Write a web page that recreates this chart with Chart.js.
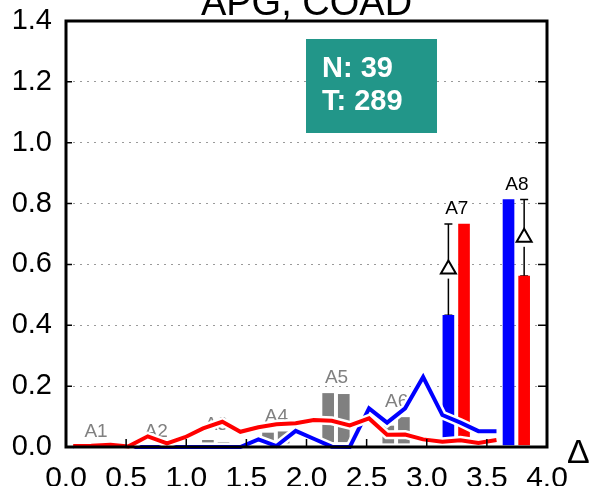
<!DOCTYPE html>
<html>
<head>
<meta charset="utf-8">
<script src="https://cdn.jsdelivr.net/npm/chart.js@4.4.1/dist/chart.umd.min.js"></script>
<style>
  html, body { margin: 0; padding: 0; background: #fff; }
</style>
</head>
<body>
<canvas id="chart" width="593" height="486"></canvas>
<script>
// ----- Data -----
// line curves (x position, blue / red value)
const xPos = [0.06, 0.21, 0.37, 0.52, 0.68, 0.84, 0.99, 1.14, 1.30, 1.45, 1.60, 1.75,
              1.91, 2.06, 2.21, 2.36, 2.52, 2.67, 2.82, 2.97, 3.13, 3.28, 3.43, 3.58];
const redVals = [0.003, 0.004, 0.007, 0.002, 0.035, 0.012, 0.032, 0.061, 0.083, 0.050, 0.065, 0.075,
                 0.078, 0.089, 0.086, 0.071, 0.094, 0.040, 0.041, 0.025, 0.017, 0.022, 0.013, 0.023];
const blueVals = [0, 0, 0, 0, 0, 0, 0, 0, 0, 0, 0.025, 0.003,
                  0.053, 0.027, 0.001, 0, 0.127, 0.080, 0.127, 0.230, 0.105, 0.080, 0.052, 0.052];

// bar groups
const groupLabels = ["A1", "A2", "A3", "A4", "A5", "A6", "A7", "A8"];
const groupCenters = [0.25, 0.75, 1.25, 1.75, 2.25, 2.75, 3.25, 3.75];
const significant = [false, false, false, false, false, false, true, true];
const barBase = [0, 0, 0.015, 0.013, 0.017, 0.013, 0.03, 0.007];
const leftTop = [0, 0, 0.022, 0.046, 0.176, 0.069, 0.433, 0.813];
const rightTop = [0, 0, 0, 0.05, 0.173, 0.097, 0.733, 0.562];

// delta markers (x position, low / high)
const errX = [3.18, 3.81];
const errLow = [0.433, 0.562];
const errHigh = [0.733, 0.813];

const xTicks = [0, 0.5, 1, 1.5, 2, 2.5, 3, 3.5, 4];
const yTicks = [0, 0.2, 0.4, 0.6, 0.8, 1.0, 1.2, 1.4];

const titleText = "APG, COAD";
const boxLines = ["N: 39", "T: 289"];

// ----- Style -----
const FONT = "'Liberation Sans', Arial, Helvetica, sans-serif";
const BLUE = "#0000ff", RED = "#ff0000", GRAY = "#808080";
const OFF_L = -0.07, OFF_R = 0.06;

const barSet = (tops, offset, sigColor, order) => ({
  type: "bar",
  data: groupCenters.map((c, i) => ({ x: c + offset, y: [barBase[i], tops[i]] })),
  backgroundColor: significant.map((s) => (s ? sigColor : GRAY)),
  barThickness: 11,
  grouped: false,
  order
});

const lineSet = (vals, color, width, order) => ({
  type: "line",
  data: xPos.map((x, i) => ({ x, y: vals[i] })),
  borderColor: color,
  borderWidth: width,
  pointRadius: 0,
  tension: 0,
  fill: false,
  clip: false,
  order
});

// ----- Decorations plugin -----
const decor = {
  id: "decor",
  beforeDatasetsDraw(chart) {
    const { ctx, scales: { x, y } } = chart;
    ctx.save();
    // group labels
    ctx.font = "19px " + FONT;
    ctx.textAlign = "center";
    ctx.textBaseline = "alphabetic";
    groupLabels.forEach((lab, i) => {
      let top = Math.max(leftTop[i], rightTop[i]);
      errX.forEach((ex, j) => {
        if (Math.abs(ex - groupCenters[i]) < 0.25) top = Math.max(top, errHigh[j]);
      });
      ctx.fillStyle = significant[i] ? "#000" : GRAY;
      ctx.fillText(lab, x.getPixelForValue(groupCenters[i]), y.getPixelForValue(top) - 10);
    });
    // delta markers
    errX.forEach((ex, j) => {
      const px = x.getPixelForValue(ex);
      const yLo = y.getPixelForValue(errLow[j]);
      const yHi = y.getPixelForValue(errHigh[j]);
      const yMid = (yLo + yHi) / 2;
      ctx.strokeStyle = "#000";
      ctx.lineWidth = 1.5;
      ctx.beginPath();
      ctx.moveTo(px, yHi); ctx.lineTo(px, yLo);
      ctx.moveTo(px - 4, yHi); ctx.lineTo(px + 4, yHi);
      ctx.moveTo(px - 4, yLo); ctx.lineTo(px + 4, yLo);
      ctx.stroke();
      ctx.fillStyle = "#fff";
      ctx.fillRect(px - 9, yMid - 9, 18, 18);
      ctx.lineWidth = 2;
      ctx.beginPath();
      ctx.moveTo(px, yMid - 9);
      ctx.lineTo(px + 7.5, yMid + 4);
      ctx.lineTo(px - 7.5, yMid + 4);
      ctx.closePath();
      ctx.stroke();
    });
    ctx.restore();
  },
  afterDatasetsDraw(chart) {
    const { ctx, chartArea: { left, right, top, bottom }, scales: { x, y } } = chart;
    ctx.save();
    // inward ticks
    ctx.strokeStyle = "#000";
    ctx.lineWidth = 1.5;
    ctx.beginPath();
    xTicks.forEach((v) => {
      const px = x.getPixelForValue(v);
      ctx.moveTo(px, bottom); ctx.lineTo(px, bottom - 8);
    });
    yTicks.forEach((v) => {
      const py = y.getPixelForValue(v);
      ctx.moveTo(left, py); ctx.lineTo(left + 6, py);
      ctx.moveTo(right, py); ctx.lineTo(right - 9, py);
    });
    ctx.stroke();
    // frame
    ctx.lineWidth = 3;
    ctx.strokeRect(left, top, right - left, bottom - top);
    // N / T box
    ctx.fillStyle = "#229689";
    ctx.fillRect(left + 240, top + 18, 131, 94);
    ctx.fillStyle = "#fff";
    ctx.font = "bold 29px " + FONT;
    ctx.textAlign = "left";
    ctx.textBaseline = "alphabetic";
    ctx.fillText(boxLines[0], left + 256, top + 56);
    ctx.fillText(boxLines[1], left + 256, top + 89);
    // title (cut off by the top edge)
    ctx.fillStyle = "#000";
    ctx.font = "38px " + FONT;
    ctx.textAlign = "center";
    ctx.fillText(titleText, (left + right) / 2, top - 6);
    // axis symbol
    ctx.font = "34px " + FONT;
    ctx.textAlign = "left";
    ctx.fillText("Δ", right + 20, bottom + 16);
    ctx.restore();
  }
};

// ----- Chart -----
const chart = new Chart(document.getElementById("chart"), {
  data: {
    datasets: [
      lineSet(redVals, RED, 4, 0),
      lineSet(redVals, "#fff", 9, 1),
      lineSet(blueVals, BLUE, 4, 2),
      lineSet(blueVals, "#fff", 9, 3),
      barSet(leftTop, OFF_L, BLUE, 10),
      barSet(rightTop, OFF_R, RED, 11)
    ]
  },
  options: {
    responsive: false,
    animation: false,
    devicePixelRatio: 1,
    layout: { padding: { left: 0, right: 46, top: 21, bottom: 0 } },
    plugins: { legend: { display: false }, tooltip: { enabled: false } },
    scales: {
      x: {
        type: "linear",
        offset: false,
        min: 0,
        max: 4,
        afterFit: (s) => { s.height = 39; s.paddingLeft = 0; s.paddingRight = 0; },
        afterBuildTicks: (s) => { s.ticks = xTicks.map((v) => ({ value: v })); },
        ticks: {
          callback: (v) => v.toFixed(1),
          color: "#000",
          padding: 6,
          maxRotation: 0,
          font: { family: FONT, size: 30 }
        },
        grid: { display: false, offset: false },
        border: { display: false }
      },
      y: {
        type: "linear",
        min: 0,
        max: 1.4,
        afterFit: (s) => { s.width = 66; s.paddingTop = 0; s.paddingBottom = 0; },
        afterBuildTicks: (s) => { s.ticks = yTicks.map((v) => ({ value: v })); },
        ticks: {
          callback: (v) => v.toFixed(1),
          color: "#000",
          padding: 14,
          font: { family: FONT, size: 29 }
        },
        grid: { color: "#9a9a9a", lineWidth: 1, drawTicks: false },
        border: { display: false, dash: [2, 5] }
      }
    }
  },
  plugins: [decor]
});
</script>
</body>
</html>
